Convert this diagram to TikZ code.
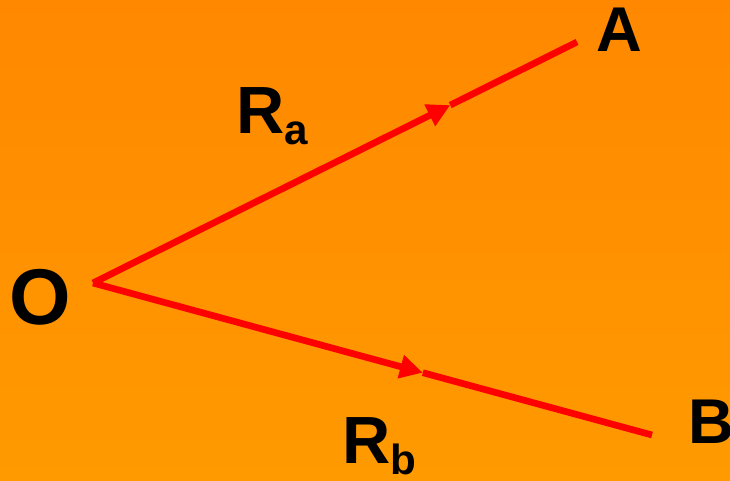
\documentclass[tikz,border=0pt]{standalone}
\usepackage{fontspec}
\setmainfont{Liberation Sans}
\usetikzlibrary{arrows.meta,calc}
\definecolor{bgtop}{HTML}{FF8800}
\definecolor{bgbottom}{HTML}{FF9A00}
\newcommand{\lowsub}[1]{\raisebox{-0.22cm}{\fontsize{24}{24}\selectfont\bfseries #1}}

\begin{document}
\begin{tikzpicture}
    % Define styles
    \tikzstyle{point} = [font=\fontsize{40}{40}\selectfont\bfseries, inner sep=0pt]
    \tikzstyle{radius} = [font=\fontsize{38}{38}\selectfont\bfseries, inner sep=0pt, anchor=base west]
    \tikzstyle{vec} = [draw, red, line width=3.8pt, line cap=butt]
    \tikzstyle{vecarrow} = [vec, -{Triangle[length=13pt,width=13pt]}] % Arrow in the middle

    % Background
    \shade [top color=bgtop, bottom color=bgbottom] (0,0) rectangle (14.6,9.6);
    \useasboundingbox (0,0) rectangle (14.6,9.6);

    % Place nodes
    \node [point, font=\fontsize{45}{45}\selectfont\bfseries] (O) at (0.80,3.66) {O};
    \node [point, font=\fontsize{36}{36}\selectfont\bfseries] (A) at (12.38,9.0) {A};
    \node [point, font=\fontsize{36}{36}\selectfont\bfseries] (B) at (14.22,1.16) {B};
    \node [radius] (Ra) at (4.72,6.94) {R\lowsub{a}};
    \node [radius] (Rb) at (6.84,0.34) {R\lowsub{b}};

    \coordinate (origin) at (1.86,3.94);
    \coordinate (endA) at (11.54,8.76);
    \coordinate (endB) at (13.04,0.90);
    \coordinate (midA) at ($(origin)!0.738!(endA)$);
    \coordinate (midB) at ($(origin)!0.59!(endB)$);

    % Draw arrows
    \path [vecarrow] (origin) -- (midA);
    \path [vec] (midA) -- (endA);
    \path [vecarrow] (origin) -- (midB);
    \path [vec] (midB) -- (endB);
\end{tikzpicture}
\end{document}
